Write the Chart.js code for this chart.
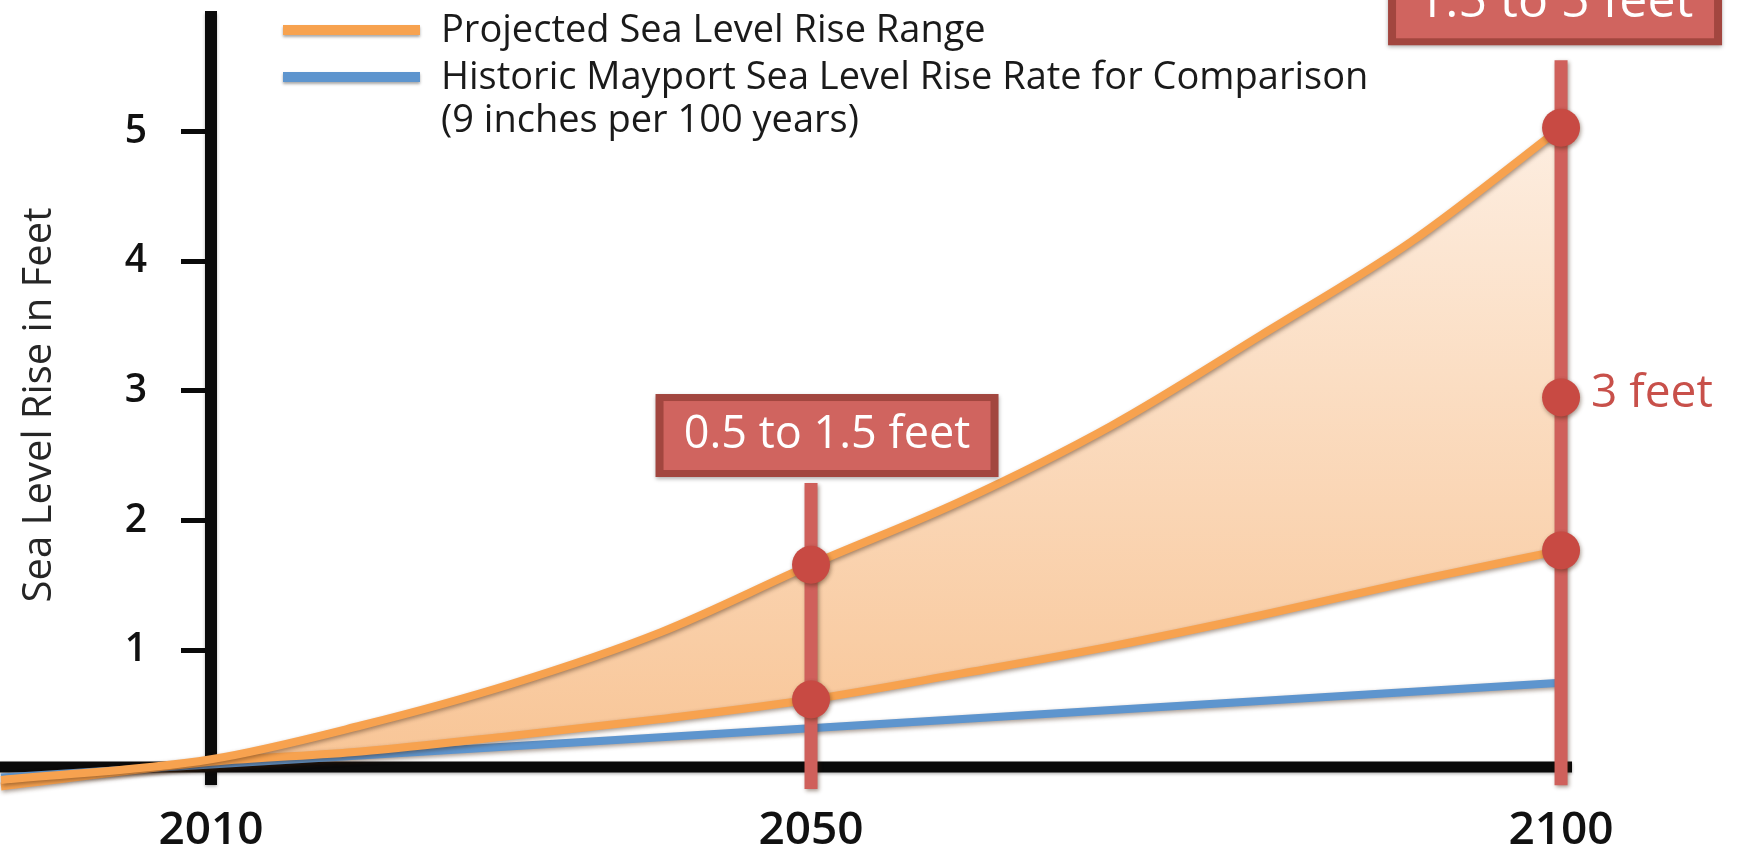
<!DOCTYPE html>
<html>
<head>
<meta charset="utf-8">
<script src="https://cdn.jsdelivr.net/npm/chart.js@4.4.1/dist/chart.umd.min.js"></script>
<style>
  html, body { margin: 0; padding: 0; background: #ffffff; overflow: hidden; }
  #c { display: block; }
</style>
</head>
<body>
<canvas id="c" width="1742" height="851"></canvas>
<script>
// ---------------- DATA ----------------
const years       = [1996, 2010, 2020, 2030, 2040, 2050, 2060, 2070, 2080, 2090, 2100];
const upperRange  = [0.00, 0.16, 0.42, 0.74, 1.14, 1.66, 2.15, 2.73, 3.43, 4.15, 5.03];
const lowerRange  = [-0.05, 0.14, 0.22, 0.34, 0.47, 0.62, 0.82, 1.03, 1.27, 1.53, 1.77];
const historicYears = [1996, 2010, 2100];
const historicRate  = [0.02, 0.12, 0.75];

const xTickYears  = [2010, 2050, 2100];
const yTickValues = [1, 2, 3, 4, 5];

const markerYears   = [2050, 2100];
const markerTop     = [2.29, 5.55];
const markerBottom  = [-0.07, -0.04];
const markerLabels  = ['0.5 to 1.5 feet', '1.5 to 5 feet'];

const dotYears  = [2050, 2050, 2100, 2100, 2100];
const dotValues = [1.66, 0.62, 5.03, 2.95, 1.77];

const midLabel = '3 feet';
const midYear  = 2100;
const midValue = 2.95;

const legendLabels = ['Projected Sea Level Rise Range',
                      'Historic Mayport Sea Level Rise Rate for Comparison',
                      '(9 inches per 100 years)'];
const yTitle = 'Sea Level Rise in Feet';

// ---------------- STYLE / LAYOUT ----------------
const FONT = "'Open Sans', 'DejaVu Sans', sans-serif";
const ORANGE = '#F7A24F';
const BLUE = '#5E95CE';
const RED = '#CF605B';
const RED_DARK = '#A2463F';
const DOT = '#C84A43';
const BLACK = '#0a0a0a';

const boxStyle = [
  { dx: 16, gap: 6,  w: 343, h: 83, font: 45 },
  { dx: -6, gap: 15, w: 334, h: 86, font: 50 }
];
const legendStyle = { x1: 283, x2: 420, textX: 441, rows: [31, 78, 121], font: 38, swatch: 10 };
const titleStyle = { x: 40, y: 405, font: 40 };

// ---------------- PLUGINS ----------------
const axesPlugin = {
  id: 'axesPlugin',
  beforeDatasetsDraw(chart) {
    const { ctx, chartArea: a, scales: { x } } = chart;
    ctx.save();
    ctx.shadowColor = 'rgba(0,0,0,0.3)';
    ctx.shadowBlur = 3;
    ctx.shadowOffsetY = 1.5;
    ctx.strokeStyle = BLACK;
    ctx.lineWidth = 11;
    ctx.beginPath();
    ctx.moveTo(0, a.bottom);
    ctx.lineTo(a.right, a.bottom);
    ctx.stroke();
    const x0 = x.getPixelForValue(xTickYears[0]);
    ctx.lineWidth = 12;
    ctx.beginPath();
    ctx.moveTo(x0, a.top);
    ctx.lineTo(x0, a.bottom + 18);
    ctx.stroke();
    ctx.restore();
  }
};

const shadowPlugin = {
  id: 'shadowPlugin',
  beforeDatasetDraw(chart) {
    const ctx = chart.ctx;
    ctx.save();
    ctx.shadowColor = 'rgba(60,30,10,0.45)';
    ctx.shadowBlur = 4;
    ctx.shadowOffsetX = 1;
    ctx.shadowOffsetY = 2;
  },
  afterDatasetDraw(chart) {
    chart.ctx.restore();
  }
};

const markerPlugin = {
  id: 'markerPlugin',
  beforeDatasetDraw(chart, args) {
    if (args.index !== 0) return;
    const { ctx, scales: { x, y } } = chart;
    ctx.save();
    ctx.strokeStyle = RED;
    ctx.lineWidth = 13;
    markerYears.forEach((yr, i) => {
      const px = x.getPixelForValue(yr);
      ctx.beginPath();
      ctx.moveTo(px, y.getPixelForValue(markerTop[i]));
      ctx.lineTo(px, y.getPixelForValue(markerBottom[i]));
      ctx.stroke();
    });
    ctx.restore();
  },
  afterDatasetsDraw(chart) {
    const { ctx, scales: { x, y } } = chart;
    // label boxes
    markerYears.forEach((yr, i) => {
      const st = boxStyle[i];
      const cx = x.getPixelForValue(yr) + st.dx;
      const bottom = y.getPixelForValue(markerTop[i]) - st.gap;
      const left = cx - st.w / 2, top = bottom - st.h;
      ctx.save();
      ctx.shadowColor = 'rgba(0,0,0,0.3)';
      ctx.shadowBlur = 4;
      ctx.shadowOffsetY = 2;
      ctx.fillStyle = RED_DARK;
      ctx.fillRect(left, top, st.w, st.h);
      ctx.restore();
      ctx.fillStyle = '#D0645F';
      ctx.fillRect(left + 8, top + 7, st.w - 16, st.h - 14);
      ctx.fillStyle = '#ffffff';
      ctx.font = `${st.font}px ${FONT}`;
      ctx.textAlign = 'center';
      ctx.textBaseline = 'middle';
      ctx.fillText(markerLabels[i], cx, top + st.h / 2);
    });
    // "3 feet"
    ctx.save();
    ctx.fillStyle = '#C8504A';
    ctx.font = `46px ${FONT}`;
    ctx.textAlign = 'left';
    ctx.textBaseline = 'middle';
    ctx.fillText(midLabel, x.getPixelForValue(midYear) + 30, y.getPixelForValue(midValue) - 4);
    ctx.restore();
    // legend
    ctx.save();
    ctx.lineWidth = legendStyle.swatch;
    ctx.shadowColor = 'rgba(0,0,0,0.35)';
    ctx.shadowBlur = 3;
    ctx.shadowOffsetY = 2;
    [ORANGE, BLUE].forEach((c, i) => {
      ctx.strokeStyle = c;
      ctx.beginPath();
      ctx.moveTo(legendStyle.x1, legendStyle.rows[i] - 1);
      ctx.lineTo(legendStyle.x2, legendStyle.rows[i] - 1);
      ctx.stroke();
    });
    ctx.restore();
    ctx.save();
    ctx.fillStyle = '#1a1a1a';
    ctx.font = `${legendStyle.font}px ${FONT}`;
    ctx.textAlign = 'left';
    ctx.textBaseline = 'middle';
    legendLabels.forEach((t, i) => ctx.fillText(t, legendStyle.textX, legendStyle.rows[i]));
    ctx.restore();
    // y title
    ctx.save();
    ctx.translate(titleStyle.x, titleStyle.y);
    ctx.rotate(-Math.PI / 2);
    ctx.fillStyle = '#262626';
    ctx.font = `${titleStyle.font}px ${FONT}`;
    ctx.textAlign = 'center';
    ctx.textBaseline = 'middle';
    ctx.fillText(yTitle, 0, 0);
    ctx.restore();
  }
};

// ---------------- CHART ----------------
const toXY = (xs, ys) => xs.map((v, i) => ({ x: v, y: ys[i] }));

const fillGradient = (context) => {
  const { chart } = context;
  const a = chart.chartArea;
  if (!a) return 'rgba(249,200,150,0.8)';
  const g = chart.ctx.createLinearGradient(0, a.top + 110, 0, a.bottom);
  g.addColorStop(0, '#FDEEE1');
  g.addColorStop(1, '#F8C596');
  return g;
};

new Chart(document.getElementById('c'), {
  type: 'line',
  data: {
    datasets: [
      {
        type: 'scatter',
        label: 'markers',
        data: toXY(dotYears, dotValues),
        pointRadius: 19,
        pointHoverRadius: 19,
        pointBackgroundColor: DOT,
        pointBorderWidth: 0,
        showLine: false,
        clip: false,
        order: 0
      },
      {
        label: legendLabels[0] + ' (high)',
        data: toXY(years, upperRange),
        borderColor: ORANGE,
        borderWidth: 8,
        pointRadius: 0,
        cubicInterpolationMode: 'monotone',
        fill: false,
        clip: false,
        order: 1
      },
      {
        label: legendLabels[0] + ' (low)',
        data: toXY(years, lowerRange),
        borderColor: ORANGE,
        backgroundColor: fillGradient,
        borderWidth: 8,
        pointRadius: 0,
        cubicInterpolationMode: 'monotone',
        fill: 1,
        clip: false,
        order: 2
      },
      {
        label: legendLabels[1],
        data: toXY(historicYears, historicRate),
        borderColor: BLUE,
        borderWidth: 8,
        pointRadius: 0,
        fill: false,
        clip: false,
        order: 3
      }
    ]
  },
  options: {
    responsive: false,
    animation: false,
    devicePixelRatio: 1,
    events: [],
    layout: { autoPadding: false, padding: { top: 11, right: 170, left: 0, bottom: 0 } },
    plugins: {
      legend: { display: false },
      tooltip: { enabled: false }
    },
    scales: {
      x: {
        type: 'linear',
        min: 2010,
        max: 2100.73,
        afterBuildTicks: (s) => { s.ticks = xTickYears.map(v => ({ value: v })); },
        afterFit: (s) => { s.height = 84; s.paddingLeft = 0; s.paddingRight = 0; },
        grid: { display: false, drawTicks: false },
        border: { display: false },
        ticks: {
          callback: (v) => String(v),
          font: { family: FONT, size: 46, weight: '600' },
          color: '#111111',
          padding: 36,
          maxRotation: 0,
          autoSkip: false
        }
      },
      y: {
        type: 'linear',
        min: 0.1,
        max: 5.93,
        afterBuildTicks: (s) => { s.ticks = yTickValues.map(v => ({ value: v })); },
        afterFit: (s) => { s.width = 211; s.paddingTop = 0; s.paddingBottom = 0; },
        grid: {
          display: true,
          drawOnChartArea: false,
          drawTicks: true,
          tickLength: 30,
          tickWidth: 5,
          tickColor: BLACK,
          color: 'rgba(0,0,0,0)'
        },
        border: { display: false },
        ticks: {
          callback: (v) => String(v),
          font: { family: FONT, size: 39, weight: '600', lineHeight: 0.4 },
          color: '#111111',
          padding: 34,
          autoSkip: false
        }
      }
    }
  },
  plugins: [axesPlugin, shadowPlugin, markerPlugin]
});
</script>
</body>
</html>
